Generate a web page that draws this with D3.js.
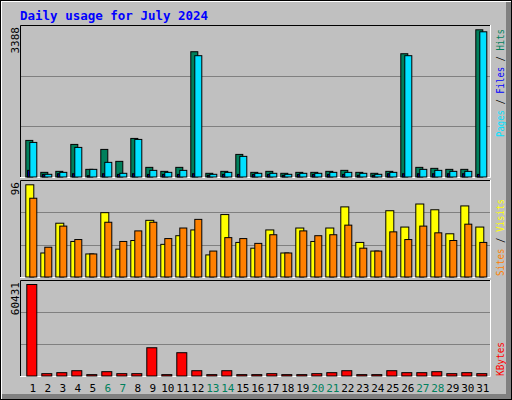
<!DOCTYPE html><html><head><meta charset="utf-8">
<script src="https://cdn.jsdelivr.net/npm/d3@7"></script>
<style>body{margin:0;background:#fff}</style></head><body>
<svg id="c" width="512" height="400"></svg>
<script>
const days=d3.range(1,32);
const weekends=[6,7,13,14,20,21,27,28];
const hits=[842,107,130,750,176,635,360,888,222,130,222,2883,85,130,520,107,130,85,107,107,130,153,107,85,130,2837,222,199,176,176,3388];
const files=[796,62,107,681,176,337,85,865,153,107,153,2792,62,107,475,85,85,62,85,85,107,107,85,62,107,2792,176,153,130,130,3342];
const pages=[153,60,76,76,30,76,60,76,60,60,60,76,40,60,60,60,60,40,60,60,60,60,40,40,76,76,76,76,76,76,60];
const visits=[96,25,56,37,24,67,29,38,59,34,43,49,23,65,36,30,49,25,51,37,51,73,36,27,69,52,76,70,45,74,52];
const sites=[82,31,53,39,24,57,37,48,57,40,51,60,27,41,40,35,44,25,48,43,44,54,30,27,47,39,53,46,38,55,36];
const kbytes=[60431,1540,2200,3500,900,2850,1540,1540,18660,900,15380,3500,900,3500,900,900,1540,900,900,1540,2200,3500,900,900,3500,2200,2200,2850,1540,2200,1540];
const maxHits=3388,maxVisits=96,maxKB=60431;

const svg=d3.select("#c");
svg.append("rect").attr("x",0).attr("y",0).attr("width",512).attr("height",400).attr("fill","#000");
svg.append("rect").attr("x",1).attr("y",1).attr("width",510).attr("height",398).attr("fill","#fff");
svg.append("rect").attr("x",2).attr("y",2).attr("width",509).attr("height",397).attr("fill","#808080");
svg.append("rect").attr("x",2).attr("y",2).attr("width",504).attr("height",392).attr("fill","#c0c0c0");
svg.append("text").attr("x",20).attr("y",20).text("Daily usage for July 2024")
 .attr("font-family","DejaVu Sans Mono").attr("font-weight","bold").attr("font-size",12.5).attr("fill","#0000ff");

const x=d3.scaleBand().domain(days).range([20.3,485.3]);
const mono="DejaVu Sans Mono";
function panel(top,bot){
  const g=svg.append("g");
  g.append("rect").attr("x",20).attr("y",top).attr("width",470).attr("height",bot-top).attr("fill","#c0c0c0");
  [1/3,2/3].forEach(f=>g.append("line").attr("x1",21).attr("x2",490).attr("y1",Math.round(top+(bot-top)*f)+0.5).attr("y2",Math.round(top+(bot-top)*f)+0.5).attr("stroke","#808080"));
  g.append("path").attr("d",`M20.5,${bot}V${top+0.5}H490`).attr("stroke","#000").attr("fill","none");
  g.append("path").attr("d",`M20,${bot+0.5}H490.5V${top}`).attr("stroke","#fff").attr("fill","none");
  return g;
}
function bars(g,data,y,base,off,w,color){
  g.selectAll(null).data(data).enter().append("rect")
   .attr("x",(d,i)=>x(days[i])+off+0.5).attr("y",d=>y(d)+0.5)
   .attr("width",w).attr("height",d=>Math.max(0,base-y(d)))
   .attr("fill",color).attr("stroke","#000").attr("stroke-width",1);
}
function vlabel(xp,yp,txt,anchor){
  svg.append("text").attr("transform",`translate(${xp},${yp}) rotate(-90)`).attr("text-anchor",anchor)
   .attr("font-family",mono).attr("font-size",11).attr("fill","#000").text(txt);
}
const g1=panel(25,177);
const y1=d3.scaleLinear().domain([0,maxHits]).range([176.5,29.3]);
bars(g1,hits,y1,176.5,5,7,"#00805c");
bars(g1,files,y1,176.5,9,7,"#00e0ff");
bars(g1,pages,y1,176.5,6.7,1.6,"#0000ff");
vlabel(19,27,String(maxHits),"end");
const g2=panel(180,277);
const y2=d3.scaleLinear().domain([0,maxVisits]).range([276.5,184.3]);
bars(g2,visits,y2,276.5,5,8,"#ffff00");
bars(g2,sites,y2,276.5,9,7,"#ff8000");
vlabel(19,182,String(maxVisits),"end");
const g3=panel(280,376);
const y3=d3.scaleLinear().domain([0,maxKB]).range([375.5,284]);
bars(g3,kbytes,y3,375.5,6,10,"#ff0000");
vlabel(19,282,String(maxKB),"end");
function rlabel(yp,len,parts){
  const t=svg.append("text").attr("transform",`translate(504,${yp}) rotate(-90)`).attr("font-family",mono).attr("font-size",10)
   .attr("textLength",len).attr("lengthAdjust","spacingAndGlyphs");
  parts.forEach(p=>t.append("tspan").attr("fill",p[1]).text(p[0]));
}
rlabel(137,108,[["Pages","#00e0ff"],[" / ","#000"],["Files","#0000ff"],[" / ","#000"],["Hits","#00805c"]]);
rlabel(276,77,[["Sites","#ff8000"],[" / ","#000"],["Visits","#ffff00"]]);
rlabel(376,34,[["KBytes","#ff0000"]]);
svg.selectAll(null).data(days).enter().append("text")
 .attr("x",d=>x(d)+12.5).attr("y",392).attr("text-anchor","middle")
 .attr("font-family",mono).attr("font-size",11)
 .attr("fill",d=>weekends.includes(d)?"#00805c":"#000").text(d=>d);
</script></body></html>
